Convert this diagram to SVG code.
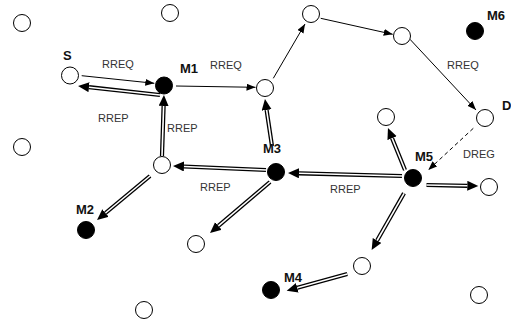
<svg xmlns="http://www.w3.org/2000/svg" width="511" height="325" viewBox="0 0 511 325">
<style>
.n{fill:#fff;stroke:#000;stroke-width:1}
.f{fill:#000;stroke:#000;stroke-width:1}
.b{font-family:"Liberation Sans",Arial,sans-serif;font-weight:bold;font-size:13px;fill:#111}
.t{font-family:"Liberation Sans",Arial,sans-serif;font-size:11px;fill:#333}
.s{fill:none;stroke:#000;stroke-width:1;marker-end:url(#ah)}
.d{fill:none;stroke:#000;stroke-width:1;stroke-dasharray:4 3;marker-end:url(#ah)}
.o{fill:none;stroke:#000;stroke-width:4.2;marker-end:url(#bh)}
.i{fill:none;stroke:#fff;stroke-width:1.6}
</style>
<defs>
<marker id="ah" markerUnits="userSpaceOnUse" markerWidth="10" markerHeight="8" refX="9" refY="3.5" orient="auto"><path d="M0,0 L9,3.5 L0,7 z" fill="#000"/></marker>
<marker id="bh" markerUnits="userSpaceOnUse" markerWidth="12" markerHeight="11" refX="0" refY="5" orient="auto"><path d="M0,0 L11,5 L0,10 z" fill="#000"/></marker>
</defs>
<rect width="511" height="325" fill="#fff"/>
<g id="connectors">
<path class="s" d="M81.7,75.7 L154.3,83.3"/>
<path class="s" d="M176,86 L255.5,87.3"/>
<path class="s" d="M273.3,78.3 L305,24"/>
<path class="s" d="M320.7,18.3 L392.7,34.3"/>
<path class="s" d="M410,39.3 L476,110"/>
<path class="d" d="M473.3,128.3 L428.3,170"/>
<path class="o" d="M160,95 L89,87.2"/><path class="i" d="M160,95 L89,87.2"/>
<path class="o" d="M162,156 L163.6,106"/><path class="i" d="M162,156 L163.6,106"/>
<path class="o" d="M266,170 L184,166.5"/><path class="i" d="M266,170 L184,166.5"/>
<path class="o" d="M150,176 L105.5,213"/><path class="i" d="M150,176 L105.5,213"/>
<path class="o" d="M272,146 L266.6,110"/><path class="i" d="M272,146 L266.6,110"/>
<path class="o" d="M270,182 L218.4,225.9"/><path class="i" d="M270,182 L218.4,225.9"/>
<path class="o" d="M402,176 L299,173.3"/><path class="i" d="M402,176 L299,173.3"/>
<path class="o" d="M405,170 L392.1,138.2"/><path class="i" d="M405,170 L392.1,138.2"/>
<path class="o" d="M426.5,185 L467.3,185.8"/><path class="i" d="M426.5,185 L467.3,185.8"/>
<path class="o" d="M404,193.3 L377.1,240.5"/><path class="i" d="M404,193.3 L377.1,240.5"/>
<path class="o" d="M347.3,274 L297.3,287.8"/><path class="i" d="M347.3,274 L297.3,287.8"/>
</g>
<g id="labels">
<text class="t" x="102" y="68">RREQ</text>
<text class="t" x="210" y="69">RREQ</text>
<text class="t" x="98" y="122">RREP</text>
<text class="t" x="167" y="132">RREP</text>
<text class="t" x="447" y="69">RREQ</text>
<text class="t" x="463" y="158">DREG</text>
<text class="t" x="200" y="191">RREP</text>
<text class="t" x="330" y="193">RREP</text>
</g>
<g id="n1"><circle class="n" cx="22" cy="23" r="8.5"/></g>
<g id="n2"><circle class="n" cx="170" cy="13" r="8.5"/></g>
<g id="S"><circle class="n" cx="70" cy="75.5" r="8.5"/><text class="b" x="63" y="60">S</text></g>
<g id="M1"><circle class="f" cx="164" cy="85.5" r="8.5"/><text class="b" x="180" y="73">M1</text></g>
<g id="n3"><circle class="n" cx="22" cy="147" r="8.5"/></g>
<g id="n4"><circle class="n" cx="162" cy="165" r="8.5"/></g>
<g id="n5"><circle class="n" cx="265" cy="88" r="8.5"/></g>
<g id="n6"><circle class="n" cx="311" cy="14" r="8.5"/></g>
<g id="n7"><circle class="n" cx="402" cy="36" r="8.5"/></g>
<g id="M6"><circle class="f" cx="475" cy="31" r="8.5"/><text class="b" x="487" y="20">M6</text></g>
<g id="D"><circle class="n" cx="485" cy="118" r="8.5"/><text class="b" x="502" y="110">D</text></g>
<g id="n8"><circle class="n" cx="386" cy="117" r="8.5"/></g>
<g id="M3"><circle class="f" cx="276" cy="172" r="8.5"/><text class="b" x="263" y="153">M3</text></g>
<g id="M5"><circle class="f" cx="413" cy="178" r="8.5"/><text class="b" x="415" y="161">M5</text></g>
<g id="n9"><circle class="n" cx="489" cy="187" r="8.5"/></g>
<g id="n10"><circle class="n" cx="196" cy="244" r="8.5"/></g>
<g id="M2"><circle class="f" cx="86" cy="230" r="8.5"/><text class="b" x="76" y="214">M2</text></g>
<g id="n11"><circle class="n" cx="144" cy="310" r="8.5"/></g>
<g id="n12"><circle class="n" cx="362" cy="266" r="8.5"/></g>
<g id="M4"><circle class="f" cx="271" cy="290" r="8.5"/><text class="b" x="284" y="282">M4</text></g>
<g id="n13"><circle class="n" cx="479" cy="295" r="8.5"/></g>
</svg>
